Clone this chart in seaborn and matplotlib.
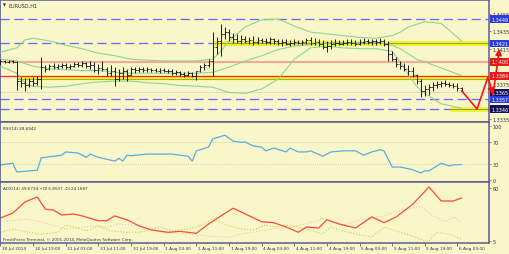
import numpy as np
import pandas as pd
import matplotlib
matplotlib.use('Agg')
import matplotlib.pyplot as plt
import seaborn as sns

# ---------------- data ----------------
high = [1.3403,1.3402,1.3402,1.3402,1.3401,1.3383,1.3382,1.3382,1.3383,1.3384,
        1.3406,1.3396,1.3398,1.3399,1.3398,1.3399,1.3399,1.3398,1.3400,1.3400,
        1.3401,1.3400,1.3401,1.3400,1.3398,1.3401,1.3394,1.3396,1.3394,1.3392,
        1.3394,1.3392,1.3394,1.3394,1.3394,1.3394,1.3394,1.3393,1.3393,1.3393,
        1.3393,1.3392,1.3392,1.3391,1.3390,1.3388,1.3390,1.3388,1.3390,1.3396,
        1.3399,1.3403,1.3434,1.3428,1.3443,1.3440,1.3438,1.3433,1.3432,1.3431,
        1.3430,1.3428,1.3430,1.3428,1.3427,1.3427,1.3428,1.3427,1.3426,1.3426,
        1.3426,1.3425,1.3426,1.3425,1.3425,1.3427,1.3428,1.3427,1.3426,1.3425,
        1.3424,1.3425,1.3426,1.3425,1.3425,1.3426,1.3426,1.3425,1.3426,1.3427,
        1.3426,1.3426,1.3426,1.3427,1.3426,1.3424,1.3412,1.3406,1.3401,1.3399,
        1.3396,1.3394,1.3386,1.3380,1.3373,1.3375,1.3377,1.3378,1.3378,1.3379,
        1.3377,1.3376,1.3376,1.3371]
low = [1.3396,1.3399,1.3399,1.3399,1.3368,1.3371,1.3367,1.3371,1.3372,1.3373,
       1.3369,1.3388,1.3391,1.3392,1.3392,1.3393,1.3392,1.3392,1.3394,1.3394,
       1.3394,1.3393,1.3392,1.3388,1.3386,1.3390,1.3384,1.3384,1.3372,1.3378,
       1.3380,1.3378,1.3385,1.3387,1.3388,1.3388,1.3388,1.3388,1.3388,1.3387,
       1.3388,1.3387,1.3385,1.3385,1.3384,1.3383,1.3384,1.3383,1.3379,1.3388,
       1.3391,1.3394,1.3384,1.3409,1.3407,1.3426,1.3424,1.3422,1.3422,1.3420,
       1.3422,1.3420,1.3419,1.3420,1.3422,1.3420,1.3420,1.3420,1.3419,1.3418,
       1.3419,1.3418,1.3419,1.3420,1.3419,1.3420,1.3419,1.3419,1.3418,1.3415,
       1.3411,1.3415,1.3418,1.3419,1.3419,1.3419,1.3419,1.3418,1.3419,1.3420,
       1.3420,1.3419,1.3419,1.3420,1.3418,1.3401,1.3401,1.3394,1.3392,1.3390,
       1.3385,1.3383,1.3375,1.3360,1.3361,1.3362,1.3367,1.3370,1.3371,1.3372,
       1.3371,1.3370,1.3367,1.3365]
open_ = [1.3400,1.3401,1.3400,1.3401,1.3400,1.3378,1.3376,1.3373,1.3378,1.3376,
         1.3380,1.3394,1.3392,1.3395,1.3394,1.3395,1.3396,1.3394,1.3395,1.3398,
         1.3396,1.3399,1.3395,1.3396,1.3391,1.3393,1.3392,1.3387,1.3390,1.3380,
         1.3387,1.3390,1.3385,1.3392,1.3391,1.3392,1.3391,1.3392,1.3391,1.3390,
         1.3391,1.3390,1.3390,1.3387,1.3388,1.3386,1.3385,1.3387,1.3384,1.3390,
         1.3394,1.3396,1.3401,1.3417,1.3424,1.3432,1.3434,1.3428,1.3426,1.3424,
         1.3426,1.3424,1.3425,1.3423,1.3425,1.3424,1.3423,1.3426,1.3424,1.3422,
         1.3423,1.3420,1.3422,1.3423,1.3422,1.3423,1.3425,1.3422,1.3423,1.3420,
         1.3417,1.3418,1.3420,1.3422,1.3420,1.3422,1.3423,1.3422,1.3420,1.3423,
         1.3424,1.3423,1.3424,1.3423,1.3424,1.3420,1.3409,1.3403,1.3398,1.3395,
         1.3392,1.3390,1.3385,1.3378,1.3367,1.3369,1.3371,1.3373,1.3375,1.3376,
         1.3375,1.3373,1.3372,1.3370]
close = [1.3401,1.3400,1.3401,1.3400,1.3378,1.3376,1.3373,1.3378,1.3376,1.3380,
         1.3394,1.3392,1.3395,1.3394,1.3395,1.3396,1.3394,1.3395,1.3398,1.3396,
         1.3399,1.3395,1.3396,1.3391,1.3393,1.3392,1.3387,1.3390,1.3380,1.3387,
         1.3390,1.3385,1.3392,1.3391,1.3392,1.3391,1.3392,1.3391,1.3390,1.3391,
         1.3390,1.3390,1.3387,1.3388,1.3386,1.3385,1.3387,1.3384,1.3390,1.3394,
         1.3396,1.3401,1.3417,1.3424,1.3432,1.3434,1.3428,1.3426,1.3424,1.3426,
         1.3424,1.3425,1.3423,1.3425,1.3424,1.3423,1.3426,1.3424,1.3422,1.3423,
         1.3420,1.3422,1.3423,1.3422,1.3423,1.3425,1.3422,1.3423,1.3420,1.3417,
         1.3418,1.3420,1.3422,1.3420,1.3422,1.3423,1.3422,1.3420,1.3423,1.3424,
         1.3423,1.3424,1.3423,1.3424,1.3420,1.3409,1.3403,1.3398,1.3395,1.3392,
         1.3390,1.3385,1.3378,1.3367,1.3369,1.3371,1.3373,1.3375,1.3376,1.3375,
         1.3373,1.3372,1.3370,1.3367]

band_idx = [0,4,6,8,12,16,20,24,28,32,36,40,44,48,52,54,56,60,64,68,72,76,80,84,88,92,96,98,100,102,104,108,112,113]
band_upper = [1.3411,1.3416,1.3425,1.3427,1.3424,1.3419,1.3415,1.3410,1.3407,1.3403,1.3402,1.3401,1.3401,1.3401,
              1.3403,1.3412,1.3424,1.3440,1.3448,1.3449,1.3441,1.3434,1.3432,1.3430,1.3428,1.3427,1.3430,1.3434,
              1.3440,1.3443,1.3446,1.3444,1.3428,1.3424]
band_mid = [1.3403,1.3401,1.3398,1.3395,1.3392,1.3391,1.3390,1.3390,1.3388,1.3387,1.3387,1.3387,1.3387,1.3387,
            1.3388,1.3391,1.3394,1.3401,1.3407,1.3414,1.3418,1.3420,1.3422,1.3422,1.3422,1.3422,1.3419,1.3415,
            1.3409,1.3403,1.3400,1.3393,1.3386,1.3384]
band_lower = [1.3395,1.3387,1.3376,1.3372,1.3371,1.3372,1.3375,1.3377,1.3378,1.3378,1.3376,1.3375,1.3373,1.3372,
              1.3371,1.3368,1.3365,1.3364,1.3369,1.3380,1.3403,1.3416,1.3418,1.3416,1.3415,1.3415,1.3412,1.3400,
              1.3385,1.3372,1.3364,1.3352,1.3348,1.3347]

rsi_idx = [0,3,4,9,10,13,15,16,19,21,22,24,28,29,30,31,32,36,39,42,46,47,48,51,52,55,57,59,60,62,64,65,67,70,71,73,
           75,76,79,81,84,85,87,89,91,93,94,96,98,101,103,104,105,107,108,110,111,113]
rsi_val = [28,31,15,18,41,44,46,52,50,42,48,42,35,40,35,46,45,48,48,48,44,35,54,61,76,83,72,70,70,63,61,54,59,52,59,52,
           52,54,44,52,54,54,54,46,52,56,54,24,24,19,13,17,17,26,31,26,28,28.69]

adx_idx = [0,3,6,9,11,13,15,18,20,24,26,28,31,34,37,41,44,48,51,54,57,60,62,64,67,70,73,75,78,80,83,87,91,94,97,101,105,108,111,113]
adx_val = [28.9,34,45.5,50.7,38,37,32,33,31,26,26,31,27,20.6,16.4,14,15,13,22.6,31,39,33,29,25,24,19.5,14,19.5,18.5,27,
           22.6,18.5,30,24,30,43,61,46.5,46.5,49.67]
pdi_idx = [0,3,7,10,14,16,18,21,24,27,31,34,39,42,46,49,52,56,59,62,65,67,70,73,75,79,81,84,87,91,94,97,101,104,105,107,110,113]
pdi_val = [14,17.5,14,12,14,21.6,19.5,15.4,20.6,15.4,14,14,19.5,15.4,17.5,20.6,28,20.6,17.5,16.5,21.6,19.5,21.6,19.5,17.5,
           12.3,19.5,15.4,12.3,9.1,19.5,15.4,10,5,5,14,12.3,6.85]
mdi_idx = [0,3,6,10,16,23,26,29,34,41,46,51,56,59,62,67,73,79,84,89,94,97,102,103,106,109,111,113]
mdi_val = [25,26,28,25,17.5,20.6,19.5,22.6,20.6,14,12.3,10,9,12.3,14.5,17.5,20.6,28,21.6,28,31,36,40,41,31,25,30,24.17]

time_idx = [0,8,16,24,32,40,48,56,64,72,80,88,96,104,112]
time_labels = ["30 Jul 2014","30 Jul 19:00","31 Jul 03:00","31 Jul 11:00","31 Jul 19:00","1 Aug 03:00","1 Aug 11:00",
               "1 Aug 19:00","4 Aug 03:00","4 Aug 11:00","4 Aug 19:00","5 Aug 03:00","5 Aug 11:00","5 Aug 19:00","6 Aug 03:00"]
price_ticks = [1.3455, 1.3435, 1.3415, 1.3375, 1.3335]
level_prices = [1.3449, 1.3421, 1.3400, 1.3384, 1.3365, 1.3357, 1.3346]
level_kind = ['blue', 'blue', 'red', 'red', 'navy', 'blue', 'navy']
forecast_x = [113, 116.8, 119.5]
forecast_y = [1.3367, 1.3346, 1.3383]

# ---------------- style ----------------
sns.set_style('white')
plt.rcParams['font.family'] = ['DejaVu Sans']
W, H = 510, 255
BG = '#f9f7c9'
FRAME = '#5c5c8e'
TXT = '#303048'
fig = plt.figure(figsize=(W / 100, H / 100), dpi=100)
fig.patch.set_facecolor(BG)

def rect(x0, y0, x1, y1):
    return [x0 / W, 1 - y1 / H, (x1 - x0) / W, (y1 - y0) / H]

ax = fig.add_axes(rect(0, 1, 489, 123))
ax_rsi = fig.add_axes(rect(0, 123, 489, 183))
ax_adx = fig.add_axes(rect(0, 183, 489, 244))
XL = (-0.12, 119.73)
for a in (ax, ax_rsi, ax_adx):
    a.set_facecolor(BG)
    a.set_xlim(*XL)
    for s in a.spines.values():
        s.set_color(FRAME)
        s.set_linewidth(1.1)
    a.spines['left'].set_linewidth(0.6)
    a.set_xticks([])
    a.yaxis.tick_right()
    a.tick_params(axis='y', direction='out', length=1.5, width=0.5, colors=FRAME,
                  labelsize=3.5, labelcolor=TXT, pad=1)

ax.set_ylim(1.333117, 1.347074)
ax_rsi.set_ylim(-3.7, 107.4)
ax_adx.set_ylim(2.92, 66.2)

# horizontal levels
dash = (0, (7, 3.5))
for p in (1.3449, 1.3421, 1.3357, 1.3346):
    ax.axhline(p, color='#6a6af6', lw=0.95, ls=dash, zorder=1)
ax.axhline(1.3400, color='#f6a896', lw=1.5, zorder=1)
ax.axhline(1.3365, color='#dcdcd0', lw=0.8, zorder=1)
# yellow zones
ax.hlines(1.3421, 52, 120.3, color='#f2f22a', lw=3.6, zorder=2, clip_on=False)
ax.hlines(1.3421, 52, 120.3, color='#7a7a55', lw=0.5, zorder=2.1, clip_on=False)
ax.hlines(1.3382, 4, 120.3, color='#f2f22a', lw=3.2, zorder=2, clip_on=False)
ax.hlines(1.33805, 4, 120.3, color='#8a8a40', lw=0.5, zorder=2.1, clip_on=False)
ax.axhline(1.3384, color='#ff2a2a', lw=0.9, zorder=2.2)
ax.hlines(1.3346, 110.2, 120.9, color='#f2f22a', lw=3.4, zorder=2, clip_on=False)
ax.hlines(1.3346, 110.2, 120.9, color='#6a6a50', lw=0.5, zorder=2.1, clip_on=False)

# bollinger bands
bands = pd.DataFrame({'i': band_idx, 'up': band_upper, 'mid': band_mid, 'lo': band_lower})
for col in ('up', 'mid', 'lo'):
    sns.lineplot(data=bands, x='i', y=col, ax=ax, color='#8fd48f', lw=0.8, zorder=3)

# OHLC bars
idx = np.arange(len(close))
ax.vlines(idx, low, high, color='#1c1c1c', lw=0.7, zorder=4)
ax.hlines(open_, idx - 0.45, idx, color='#1c1c1c', lw=0.6, zorder=4)
ax.hlines(close, idx, idx + 0.45, color='#1c1c1c', lw=0.6, zorder=4)

ax.set_yticks(price_ticks)
ax.set_yticklabels([f'{p:.4f}' for p in price_ticks])
ax.set_xlabel(''); ax.set_ylabel('')

box_col = {'blue': '#2a3ede', 'red': '#e41c1c', 'navy': '#12125e'}
tr = ax.get_yaxis_transform()
for p, k in zip(level_prices, level_kind):
    ax.text(1.0045, p, f'{p:.4f}', transform=tr, fontsize=3.5, color='white', va='center', ha='left',
            bbox=dict(boxstyle='square,pad=0.28', fc=box_col[k], ec='none'), zorder=7, clip_on=False)

# forecast drawing (above the price boxes)
ax.plot(forecast_x, forecast_y, color='#ff1010', lw=1.2, zorder=9, clip_on=False)
ax.annotate('', xy=(120.8, 1.33595), xytext=(119.5, 1.3383),
            arrowprops=dict(arrowstyle='-|>,head_length=0.35,head_width=0.18', color='#ff1010', lw=1.2),
            annotation_clip=False, zorder=9)
ax.annotate('', xy=(122.4, 1.3418), xytext=(120.6, 1.3359),
            arrowprops=dict(arrowstyle='-|>,head_length=0.35,head_width=0.18', color='#ff1010', lw=1.2),
            annotation_clip=False, zorder=9)

fig.text(3 / W, 1 - 5.5 / H, '\u25bc', fontsize=2.6, color='#101010', va='center')
fig.text(9 / W, 1 - 6 / H, 'EURUSD,H1', fontsize=3.6, color=TXT, va='center')

# RSI
rsi = pd.DataFrame({'i': rsi_idx, 'v': rsi_val})
ax_rsi.axhline(70, color='#c4c4aa', lw=0.6, ls=(0, (1, 1.5)))
ax_rsi.axhline(30, color='#c4c4aa', lw=0.6, ls=(0, (1, 1.5)))
sns.lineplot(data=rsi, x='i', y='v', ax=ax_rsi, color='#5caae6', lw=0.9)
ax_rsi.set_yticks([0, 30, 70, 100])
ax_rsi.set_yticklabels(['0', '30', '70', '100'])
ax_rsi.set_xlabel(''); ax_rsi.set_ylabel('')
fig.text(3 / W, 1 - 129 / H, 'RSI(14) 28.6942', fontsize=3.0, color=TXT, va='center')

# ADX
adx = pd.DataFrame({'i': adx_idx, 'v': adx_val})
pdi = pd.DataFrame({'i': pdi_idx, 'v': pdi_val})
mdi = pd.DataFrame({'i': mdi_idx, 'v': mdi_val})
sns.lineplot(data=mdi, x='i', y='v', ax=ax_adx, color='#f2c0ae', lw=0.8, linestyle=':')
sns.lineplot(data=pdi, x='i', y='v', ax=ax_adx, color='#b4d844', lw=0.8, linestyle=':')
sns.lineplot(data=adx, x='i', y='v', ax=ax_adx, color='#ff4a3a', lw=0.9)
ax_adx.set_yticks([5, 60])
ax_adx.set_yticklabels(['5', '60'])
ax_adx.set_xlabel(''); ax_adx.set_ylabel('')
fig.text(3 / W, 1 - 189.5 / H, 'ADX(14) 49.6734 +DI 6.8507 -DI 24.1687', fontsize=3.0, color=TXT, va='center')
fig.text(3 / W, 1 - 240 / H, 'FreshForex Terminal, \u00a9 2001-2014, MetaQuotes Software Corp.', fontsize=3.0,
         color=TXT, va='center')

# time axis
ax_adx.set_xticks(time_idx)
ax_adx.set_xticklabels([])
ax_adx.tick_params(axis='x', direction='out', length=2.2, width=0.6, colors=FRAME, bottom=True)
trx = ax_adx.get_xaxis_transform()
for i, lab in zip(time_idx, time_labels):
    ax_adx.text(i + 0.4, -0.075, lab, transform=trx, fontsize=3.1, color=TXT, va='center', ha='left', clip_on=False)

fig.savefig('out.png', dpi=100, facecolor=BG)
